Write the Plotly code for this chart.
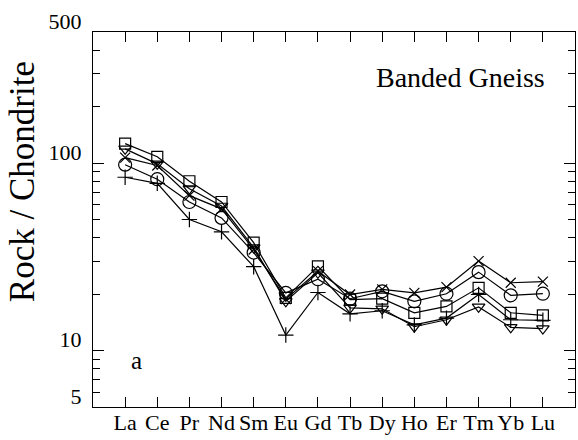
import plotly.graph_objects as go

elements = ['La', 'Ce', 'Pr', 'Nd', 'Sm', 'Eu', 'Gd', 'Tb', 'Dy', 'Ho', 'Er', 'Tm', 'Yb', 'Lu']

s_square = [127, 108, 80, 62, 37.6, 19.1, 28.1, 18.7, 18.9, 15.9, 17.2, 21.6, 15.9, 15.4]
s_tri = [119, 99, 73, 59, 35.4, 18.3, 26.0, 16.9, 16.7, 13.4, 14.6, 17.1, 13.3, 13.1]
s_x = [107, 97, 67, 57, 34.6, 18.8, 26.5, 19.9, 21.2, 20.3, 21.8, 30.0, 23.0, 23.3]
s_circle = [98, 82, 62, 51, 33.3, 20.3, 24.0, 18.9, 20.7, 18.3, 20.1, 26.2, 19.7, 20.1]
s_plus = [84, 78, 50, 43, 28.0, 12.1, 20.4, 15.7, 16.3, 13.7, 14.9, 19.9, 14.6, 14.5]

y_tickvals = [5, 10, 100, 500]
y_ticktext = ['5', '10', '100', '500']
y_minor = [6, 7, 8, 9, 20, 30, 40, 50, 60, 70, 80, 90, 200, 300, 400]

series = [
    (s_square, 'square-open', 11),
    (s_tri, 'triangle-down-open', 11),
    (s_x, 'x-thin-open', 10),
    (s_circle, 'circle-open', 13),
    (s_plus, 'cross-thin-open', 11),
]

fig = go.Figure()
for vals, sym, sz in series:
    fig.add_trace(go.Scatter(
        x=list(range(len(elements))), y=vals, mode='lines+markers',
        line=dict(color='black', width=1.2),
        marker=dict(symbol=sym, size=sz, color='black',
                    line=dict(color='black', width=1.2)),
        showlegend=False,
    ))

serif = 'Liberation Serif'
fig.update_layout(
    width=578, height=440,
    margin=dict(l=93, r=3, t=32, b=33),
    plot_bgcolor='white', paper_bgcolor='white',
    font=dict(family=serif, color='black'),
    xaxis=dict(
        range=[-1, 14], tickmode='array',
        tickvals=list(range(len(elements))), ticktext=elements,
        ticks='inside', ticklen=10, tickwidth=1.2, tickcolor='black',
        showline=True, linecolor='black', linewidth=1.2, mirror='ticks',
        showgrid=False, zeroline=False, automargin=False, tickangle=0,
        tickfont=dict(family=serif, size=22, color='black'),
        ticklabelstandoff=-5,
    ),
    yaxis=dict(
        type='log', range=[0.69897, 2.69897],
        tickmode='array', tickvals=y_tickvals, ticktext=y_ticktext,
        ticks='inside', ticklen=11, tickwidth=1.2, tickcolor='black',
        minor=dict(tickmode='array', tickvals=y_minor, ticks='inside',
                   ticklen=7, tickwidth=1.2, tickcolor='black', showgrid=False),
        showline=True, linecolor='black', linewidth=1.2, mirror='ticks',
        showgrid=False, zeroline=False, automargin=False,
        tickfont=dict(family=serif, size=22, color='black'),
        ticklabelshift=-11, ticklabelstandoff=6,
    ),
    annotations=[
        dict(text='Rock / Chondrite', xref='paper', yref='paper', x=-0.147, y=0.6,
             xanchor='center', yanchor='middle', textangle=-90, showarrow=False,
             font=dict(family=serif, size=35, color='black')),
        dict(text='Banded Gneiss', xref='paper', yref='paper', x=0.942, y=0.88,
             xanchor='right', yanchor='middle', showarrow=False,
             font=dict(family=serif, size=28, color='black')),
        dict(text='a', xref='paper', yref='paper', x=0.091, y=0.125,
             xanchor='center', yanchor='middle', showarrow=False,
             font=dict(family=serif, size=25, color='black')),
    ],
)

fig.write_html('out.html', config={'displayModeBar': False},
               post_script="document.body.style.margin='0';")
